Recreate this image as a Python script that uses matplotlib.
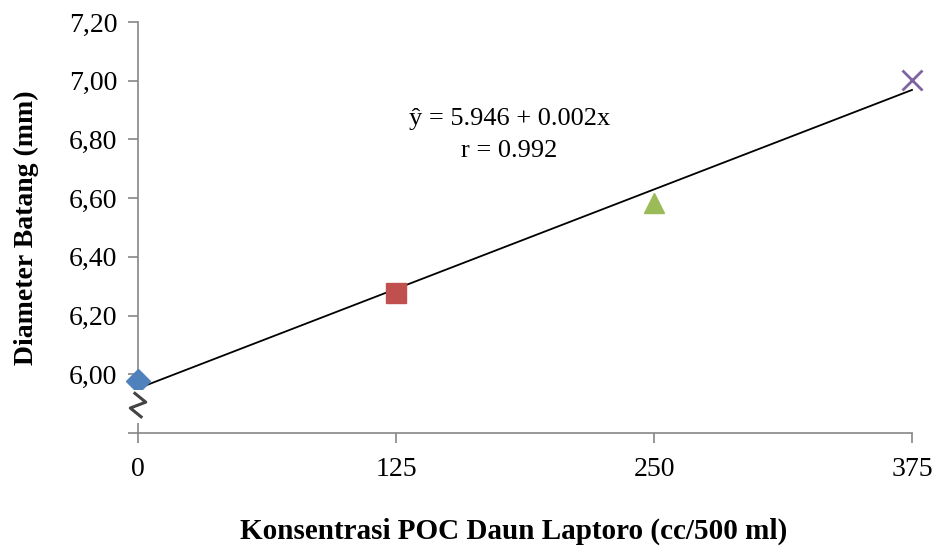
import numpy as np
import matplotlib.pyplot as plt

plt.rcParams['font.family'] = ['Liberation Serif', 'DejaVu Serif']

# data
konsentrasi = [0, 125, 250, 375]
diameter = [5.976, 6.278, 6.583, 7.004]
warna = ["#4F81BD", "#C0504D", "#9BBB59", "#8064A2"]
penanda = ["D", "s", "^", "x"]
ukuran = [12, 14, 15, 14]

y_ticks = [5.8, 6.0, 6.2, 6.4, 6.6, 6.8, 7.0, 7.2]
y_labels = ["", "6,00", "6,20", "6,40", "6,60", "6,80", "7,00", "7,20"]

fig = plt.figure(figsize=(9.35, 5.46), dpi=100)
ax = fig.add_axes([0.1476, 0.207, 0.8278, 0.7527])

# garis regresi
b, a = np.polyfit(konsentrasi, diameter, 1)
xs = np.array([konsentrasi[0], konsentrasi[-1]])
ax.plot(xs, a + b * xs, color="black", lw=1.3, zorder=2, clip_on=False)

for x, y, c, m, s in zip(konsentrasi, diameter, warna, penanda, ukuran):
    if m == "x":
        ax.plot(x, y, marker=m, color=c, ms=s, mew=2, ls="none", zorder=3, clip_on=False)
    else:
        ax.plot(x, y, marker=m, color=c, ms=s, mec=c, ls="none", zorder=3, clip_on=False)

ax.text(180, 6.87, "ŷ = 5.946 + 0.002x", ha="center", va="center", fontsize=19)
ax.text(180, 6.76, "r = 0.992", ha="center", va="center", fontsize=19)

ax.set_xlim(0, 375)
ax.set_ylim(5.8, 7.2)
ax.set_xticks(konsentrasi)
ax.set_xticklabels([str(k) for k in konsentrasi])
ax.set_yticks(y_ticks)
ax.set_yticklabels(y_labels)
ax.tick_params(axis="both", labelsize=20, length=7, width=1.2, color="#868686",
               direction="out")
ax.tick_params(axis="x", pad=10)
ax.tick_params(axis="y", pad=8)

for side in ["top", "right"]:
    ax.spines[side].set_visible(False)
for side in ["left", "bottom"]:
    ax.spines[side].set_color("#868686")
    ax.spines[side].set_linewidth(1.2)

# tanda patah sumbu
trans = ax.get_yaxis_transform()
ax.add_patch(plt.Rectangle((-0.018, 5.835), 0.036, 0.11, transform=trans,
                           facecolor="white", edgecolor="none", clip_on=False, zorder=4))
zx = [-0.004, 0.010, -0.010, 0.004]
zy = [5.935, 5.905, 5.885, 5.855]
ax.plot(zx, zy, transform=trans, color="#444444", lw=2.2, clip_on=False, zorder=5)

ax.set_ylabel("Diameter Batang (mm)", fontsize=20, fontweight="bold")
ax.yaxis.set_label_coords(-0.128, 0.5)
ax.set_xlabel("Konsentrasi POC Daun Laptoro (cc/500 ml)", fontsize=21,
              fontweight="bold")
ax.xaxis.set_label_coords(0.485, -0.205)

fig.savefig("out.png", dpi=100)
